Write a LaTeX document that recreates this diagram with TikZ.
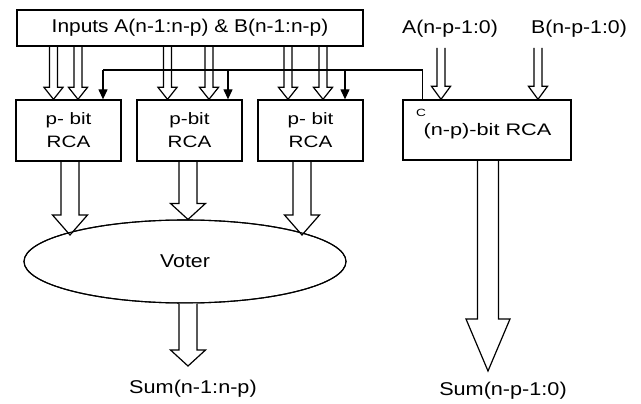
\documentclass[tikz,border=0pt]{standalone}
\usepackage{fontspec}
\setmainfont{Liberation Sans}
\usetikzlibrary{calc,shapes.geometric,arrows.meta}

% horizontally widened text
\newcommand{\wide}[2]{\scalebox{#1}[1]{#2}}

% hollow block arrow pointing down: x, start point, tip point,
% shaft half width, head half width, head length
\newcommand{\fatarrow}[6]{%
  \draw[fat] let \p1=(#2), \p2=(#3) in
    ({#1pt-#4pt},{\y1}) -- ({#1pt-#4pt},{\y2+#6pt}) -- ({#1pt-#5pt},{\y2+#6pt})
    -- ({#1pt},{\y2}) -- ({#1pt+#5pt},{\y2+#6pt}) -- ({#1pt+#4pt},{\y2+#6pt})
    -- ({#1pt+#4pt},{\y1});}

\tikzset{
  blk/.style={draw, line width=1.3pt, rectangle, inner sep=0pt},
  fat/.style={draw, line width=1.2pt, fill=white, line join=miter},
  bus/.style={draw, line width=1.2pt, -{Triangle[width=9pt,length=10pt]}},
  lbl/.style={inner sep=0pt, font=\fontsize{18.5}{20}\selectfont},
  boxtxt/.style={inner sep=0pt, align=center, font=\fontsize{16.5}{23}\selectfont},
  oval/.style={draw, line width=1.1pt, ellipse, inner sep=0pt, minimum width=322pt, minimum height=83pt},
}

\begin{document}
\begin{tikzpicture}[x=1pt,y=-1pt]
\useasboundingbox (0,0) rectangle (641,404);

% node frames
\node[blk, minimum width=346pt, minimum height=36pt] (in) at (190,28) {};
\node[blk, minimum width=105pt, minimum height=61pt] (r1) at (68.5,130.5) {};
\node[blk, minimum width=105pt, minimum height=61pt] (r2) at (189.5,130.5) {};
\node[blk, minimum width=105pt, minimum height=61pt] (r3) at (310.5,130.5) {};
\node[blk, minimum width=168pt, minimum height=60pt] (rr) at (487,130) {};

% labels
\node[lbl] (inlbl) at (in.center) {\wide{1.13}{Inputs A(n-1:n-p) \& B(n-1:n-p)}};
\node[boxtxt] (r1t) at (r1.center) {\wide{1.25}{p- bit}\\\wide{1.25}{RCA}};
\node[boxtxt] (r2t) at (r2.center) {\wide{1.25}{p-bit}\\\wide{1.25}{RCA}};
\node[boxtxt] (r3t) at (r3.center) {\wide{1.25}{p- bit}\\\wide{1.25}{RCA}};
\node[inner sep=0pt, font=\fontsize{16.7}{18}\selectfont] (rrt) at (487.5,131) {\wide{1.3}{(n-p)-bit RCA}};
\node[inner sep=0pt, font=\fontsize{10.5}{12}\selectfont] (cl) at (421,113) {\wide{1.3}{C}};
\node[lbl] (al) at (450,29) {\wide{1.15}{A(n-p-1:0)}};
\node[lbl] (bl) at (579,29) {\wide{1.15}{B(n-p-1:0)}};
\node[lbl] (s1) at (193,389) {\wide{1.17}{Sum(n-1:n-p)}};
\node[lbl] (s2) at (503,391) {\wide{1.17}{Sum(n-p-1:0)}};

% arrow tip points
\coordinate (v1) at (70,235);
\coordinate (v3) at (302,235);
\coordinate (o1) at (188,366);
\coordinate (o2) at (488,371);
\coordinate (ta) at (441,48);
\coordinate (tb) at (538,48);

% operand buses into the p-bit adders
\fatarrow{53.5}{in.south}{r1.north}{4}{9.5}{12}
\fatarrow{78}{in.south}{r1.north}{4}{9.5}{12}
\fatarrow{167.5}{in.south}{r2.north}{4}{9.5}{12}
\fatarrow{209}{in.south}{r2.north}{4}{9.5}{12}
\fatarrow{288}{in.south}{r3.north}{4}{9.5}{12}
\fatarrow{323}{in.south}{r3.north}{4}{9.5}{12}

% operands of the lower adder
\fatarrow{441}{ta}{rr.north}{4}{9.5}{13}
\fatarrow{538}{tb}{rr.north}{4}{9.5}{13}

% results into the voter
\node[oval] (vo) at (185,261.5) {};
\fatarrow{70}{r1.south}{v1}{9}{17.5}{20}
\fatarrow{188}{r2.south}{vo.north}{9}{17.5}{16}
\fatarrow{302}{r3.south}{v3}{9}{17.5}{20}
\node[oval] (vo2) at (vo.center) {};
\node[inner sep=0pt, font=\fontsize{18.6}{20}\selectfont] (vt) at (vo.center) {\wide{1.15}{Voter}};

% outputs
\fatarrow{188}{vo.south}{o1}{9}{17.5}{16}
\fatarrow{488}{rr.south}{o2}{10.5}{22}{52}

% carry line from the lower adder
\coordinate (cc) at ($(rr.north west)+(20,0)$);
\coordinate (b1) at (103,70);
\coordinate (b2) at (228,70);
\coordinate (b3) at (345,70);
\draw[line width=1.2pt] (cc) |- (b1);
\draw[bus] (b1) -- (b1 |- r1.north);
\draw[bus] (b2) -- (b2 |- r2.north);
\draw[bus] (b3) -- (b3 |- r3.north);

% frames drawn over the arrow ends
\foreach \n in {in,r1,r2,r3,rr}{
  \draw[line width=1.3pt] (\n.north west) rectangle (\n.south east);
}
\end{tikzpicture}
\end{document}
